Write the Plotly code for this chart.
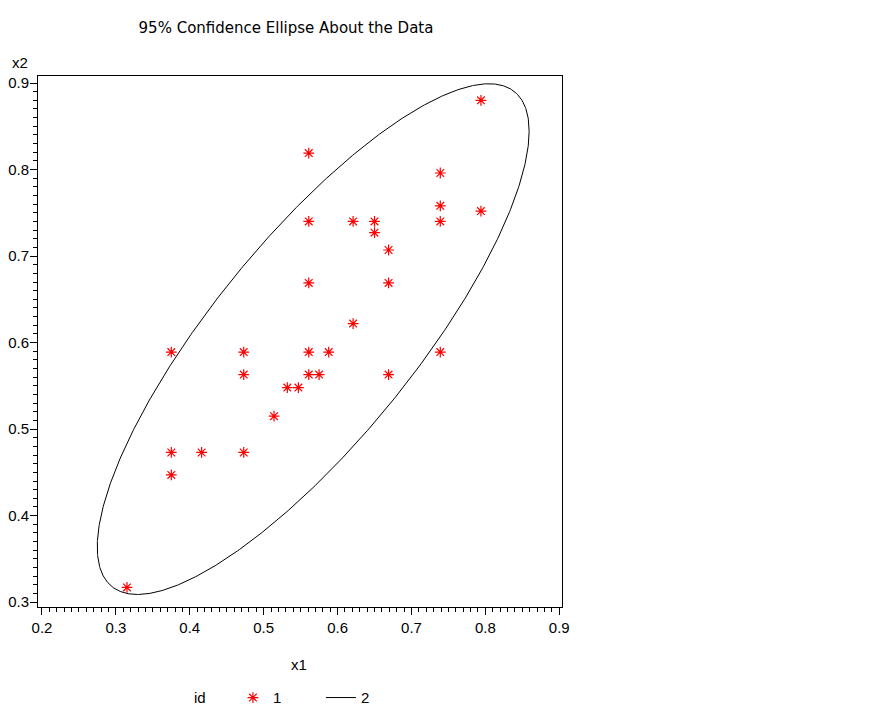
import numpy as np
import plotly.graph_objects as go

# ---- data ----
x1 = [0.315, 0.375, 0.375, 0.375, 0.416, 0.473, 0.473, 0.473, 0.514, 0.532,
      0.547, 0.561, 0.561, 0.561, 0.561, 0.561, 0.575, 0.588, 0.621, 0.621,
      0.650, 0.650, 0.669, 0.669, 0.669, 0.739, 0.739, 0.739, 0.739, 0.794,
      0.794]
x2 = [0.317, 0.589, 0.473, 0.447, 0.473, 0.589, 0.563, 0.473, 0.515, 0.548,
      0.548, 0.819, 0.740, 0.669, 0.589, 0.563, 0.563, 0.589, 0.740, 0.622,
      0.740, 0.727, 0.707, 0.669, 0.563, 0.796, 0.758, 0.740, 0.589, 0.880,
      0.752]

# 95% ellipse parameters (centre and shape matrix)
ellipse_center = [0.567, 0.604]
ellipse_shape = [[0.0854, 0.0702],
                 [0.0702, 0.0871]]

x_ticks = [0.2, 0.3, 0.4, 0.5, 0.6, 0.7, 0.8, 0.9]
y_ticks = [0.3, 0.4, 0.5, 0.6, 0.7, 0.8, 0.9]

title_text = "95% Confidence Ellipse About the Data"

# ---- ellipse curve ----
t = np.linspace(0, 2 * np.pi, 721)
L = np.linalg.cholesky(np.array(ellipse_shape))
circ = np.vstack([np.cos(t), np.sin(t)])
pts = L @ circ
ex = ellipse_center[0] + pts[0]
ey = ellipse_center[1] + pts[1]

FONT = "Liberation Sans, Arial, sans-serif"

# page body has an 8px margin, so the figure is 8px smaller in each direction
W, H = 872, 720

fig = go.Figure()
fig.add_trace(go.Scatter(
    x=x1, y=x2, mode="markers", name="1",
    marker=dict(symbol="asterisk-open", size=9, color="red",
                line=dict(color="red", width=1.2)),
))
fig.add_trace(go.Scatter(
    x=ex, y=ey, mode="lines", name="2",
    line=dict(color="black", width=1),
))

axis_common = dict(
    showline=True, linecolor="black", linewidth=1, mirror=True,
    showgrid=False, zeroline=False, automargin=False,
    ticks="outside", ticklen=7, tickwidth=1, tickcolor="black",
    tickfont=dict(family=FONT, size=15, color="black"),
    minor=dict(dtick=0.01, ticks="outside", ticklen=4, tickwidth=1,
               tickcolor="black", showgrid=False),
    dtick=0.1, tick0=0,
)

fig.update_xaxes(range=[0.1946, 0.9037], tickvals=x_ticks,
                 ticktext=[f"{v:.1f}" for v in x_ticks], **axis_common)
fig.update_yaxes(range=[0.2944, 0.9081], tickvals=y_ticks,
                 ticktext=[f"{v:.1f}" for v in y_ticks],
                 ticklabelstandoff=-2, **axis_common)

fig.update_layout(
    width=W, height=H,
    margin=dict(l=30, r=318, t=68, b=121, autoexpand=False),
    paper_bgcolor="white", plot_bgcolor="white",
    font=dict(family=FONT, size=15, color="black"),
    title=dict(text=title_text, x=278 / W, xanchor="center",
               y=1 - 20 / H, yanchor="middle",
               font=dict(family="DejaVu Sans, sans-serif", size=15, color="black")),
    showlegend=True,
    legend=dict(orientation="h", x=0.372, xanchor="left",
                y=-0.171, yanchor="middle",
                font=dict(family=FONT, size=15),
                bgcolor="rgba(0,0,0,0)", entrywidth=43),
    annotations=[
        dict(text="x1", xref="paper", yref="paper", x=0.498, y=-0.109,
             xanchor="center", yanchor="middle", showarrow=False,
             font=dict(family=FONT, size=15)),
        dict(text="x2", xref="paper", yref="paper", x=-0.0344, y=1.0245,
             xanchor="center", yanchor="middle", showarrow=False,
             font=dict(family=FONT, size=15)),
        dict(text="id", xref="paper", yref="paper", x=0.309, y=-0.171,
             xanchor="center", yanchor="middle", showarrow=False,
             font=dict(family=FONT, size=15)),
    ],
)

fig.write_html("out.html")
